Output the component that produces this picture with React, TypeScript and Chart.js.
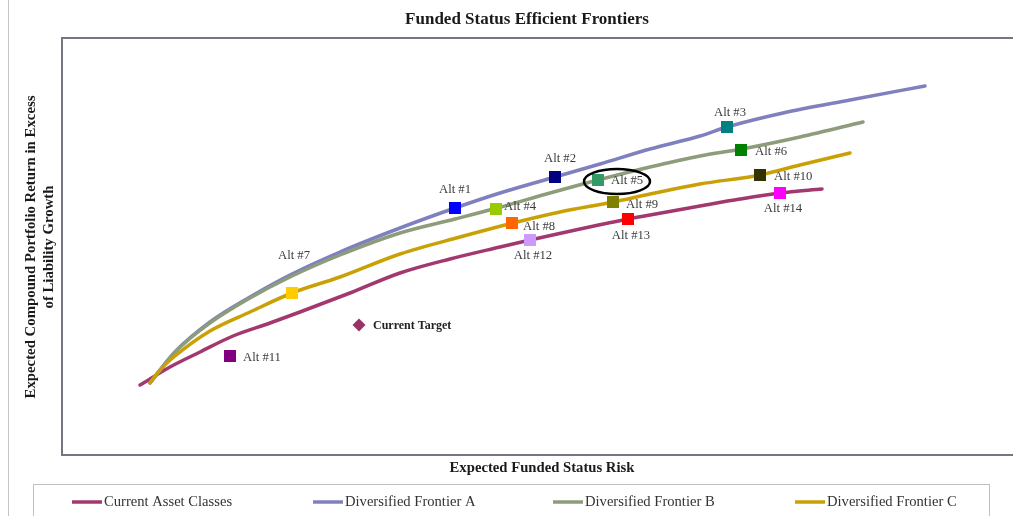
import React, { useEffect, useRef } from "react";
import { Chart, registerables } from "chart.js";

Chart.register(...registerables);

// ---------------- data ----------------
const chartTitle = "Funded Status Efficient Frontiers";
const xAxisTitle = "Expected Funded Status Risk";
const yAxisTitle = ["Expected Compound Portfolio Return in Excess", "of Liability Growth"];

const seriesNames = [
  "Current Asset Classes",
  "Diversified Frontier A",
  "Diversified Frontier B",
  "Diversified Frontier C",
];

// [risk, return] pairs
const currentAssetClasses: [number, number][] = [
  [1.56, 0.70], [2.16, 0.88], [2.76, 1.03], [3.42, 1.19], [4.16, 1.32], [4.76, 1.43],
  [5.76, 1.62], [6.76, 1.82], [7.76, 1.96], [8.76, 2.08], [9.36, 2.15], [10.36, 2.26],
  [11.32, 2.36], [11.76, 2.40], [12.76, 2.49], [13.56, 2.56], [14.36, 2.62], [15.20, 2.66],
];
const frontierA: [number, number][] = [
  [1.76, 0.72], [2.26, 1.03], [2.96, 1.33], [3.76, 1.58], [4.56, 1.80], [5.56, 2.03],
  [6.76, 2.27], [7.86, 2.47], [8.76, 2.62], [9.86, 2.78], [10.76, 2.91], [11.76, 3.06],
  [12.76, 3.19], [13.30, 3.28], [14.42, 3.42], [15.76, 3.55], [17.26, 3.69],
];
const frontierB: [number, number][] = [
  [1.76, 0.72], [2.26, 1.03], [2.96, 1.32], [3.76, 1.57], [4.56, 1.78], [5.56, 2.00],
  [6.76, 2.22], [7.86, 2.36], [8.70, 2.47], [9.76, 2.62], [10.72, 2.75], [11.76, 2.88],
  [12.76, 2.99], [13.60, 3.06], [14.76, 3.18], [16.02, 3.33],
];
const frontierC: [number, number][] = [
  [1.76, 0.72], [1.96, 0.85], [2.26, 0.99], [2.96, 1.24], [3.76, 1.43], [4.60, 1.62],
  [5.56, 1.78], [6.76, 2.01], [7.96, 2.18], [9.02, 2.32], [9.96, 2.43], [11.02, 2.53],
  [11.76, 2.61], [12.76, 2.71], [13.96, 2.80], [14.76, 2.90], [15.76, 3.02],
];

const pointNames = [
  "Alt #1", "Alt #2", "Alt #3", "Alt #4", "Alt #5", "Alt #6", "Alt #7",
  "Alt #8", "Alt #9", "Alt #10", "Alt #11", "Alt #12", "Alt #13", "Alt #14",
  "Current Target",
];
const pointRisk = [7.86, 9.86, 13.30, 8.68, 10.72, 13.58, 4.60, 9.00, 11.02, 13.96, 3.36, 9.36, 11.32, 14.36, 5.94];
const pointReturn = [2.47, 2.78, 3.28, 2.46, 2.75, 3.05, 1.62, 2.32, 2.53, 2.80, 0.99, 2.15, 2.36, 2.62, 1.30];
const highlightedPoint = "Alt #5";

// ---------------- styles ----------------
const seriesColors = ["#A3386E", "#7F80BE", "#8D9C7A", "#C9A106"];
const seriesDrawOrder = [4, 3, 2, 1];
const pointColors = [
  "#0000FF", "#000080", "#008080", "#99CC00", "#339966", "#008000", "#FFCC00",
  "#FF6600", "#808000", "#333300", "#800080", "#CC99FF", "#FF0000", "#FF00FF",
  "#993366",
];
// label offsets from the marker: [dx, dy, align]
const labelOffsets: [number, number, CanvasTextAlign][] = [
  [0, -18, "center"], [5, -18, "center"], [3, -14, "center"], [8, -2, "left"],
  [13, 1, "left"], [14, 2, "left"], [2, -37, "center"], [11, 4, "left"],
  [13, 3, "left"], [14, 2, "left"], [13, 2, "left"], [3, 16, "center"],
  [3, 17, "center"], [3, 16, "center"], [14, 1, "left"],
];

const SERIF = "'Liberation Serif', 'DejaVu Serif', serif";

const decorPlugin = {
  id: "decor",
  beforeDraw(chart: any) {
    const { ctx, width, height } = chart;
    ctx.save();
    ctx.fillStyle = "#ffffff";
    ctx.fillRect(0, 0, width, height);
    ctx.restore();
  },
  afterDatasetsDraw(chart: any) {
    const { ctx } = chart;
    const meta = chart.getDatasetMeta(0);
    ctx.save();
    ctx.textBaseline = "middle";
    meta.data.forEach((el: any, i: number) => {
      const [dx, dy, align] = labelOffsets[i];
      const isTarget = pointNames[i] === "Current Target";
      ctx.font = isTarget ? "bold 12px " + SERIF : "12.7px " + SERIF;
      ctx.fillStyle = isTarget ? "#222222" : "#3c3c3c";
      ctx.textAlign = align;
      ctx.fillText(pointNames[i], el.x + dx, el.y + dy);
      if (pointNames[i] === highlightedPoint) {
        ctx.beginPath();
        ctx.ellipse(el.x + 19, el.y + 1.5, 33, 12.5, 0, 0, Math.PI * 2);
        ctx.lineWidth = 2.5;
        ctx.strokeStyle = "#000000";
        ctx.stroke();
      }
    });
    ctx.restore();
  },
  afterDraw(chart: any) {
    const { ctx, chartArea, width, height } = chart;
    const { left, top, bottom } = chartArea;
    ctx.save();
    // outer frame line at left
    ctx.strokeStyle = "#c4c4c4";
    ctx.lineWidth = 1;
    ctx.beginPath();
    ctx.moveTo(8.5, 0);
    ctx.lineTo(8.5, height);
    ctx.stroke();

    // plot border (top, left, bottom)
    ctx.strokeStyle = "#7a7382";
    ctx.lineWidth = 2;
    ctx.beginPath();
    ctx.moveTo(width, top);
    ctx.lineTo(left, top);
    ctx.lineTo(left, bottom);
    ctx.lineTo(width, bottom);
    ctx.stroke();

    // title
    ctx.fillStyle = "#1a1a1a";
    ctx.textAlign = "center";
    ctx.textBaseline = "middle";
    ctx.font = "bold 17px " + SERIF;
    ctx.fillText(chartTitle, 527, 20);

    // x axis title
    ctx.font = "bold 14.7px " + SERIF;
    ctx.fillText(xAxisTitle, 542, 468);

    // y axis title
    ctx.save();
    ctx.translate(31, 247);
    ctx.rotate(-Math.PI / 2);
    ctx.font = "bold 14.8px " + SERIF;
    ctx.fillText(yAxisTitle[0], 0, 0);
    ctx.fillText(yAxisTitle[1], 0, 18);
    ctx.restore();

    // legend box
    ctx.strokeStyle = "#c0c0c0";
    ctx.lineWidth = 1;
    ctx.strokeRect(33.5, 484.5, 956, 60);
    const legendX = [72, 313, 553, 795];
    ctx.font = "14.6px " + SERIF;
    ctx.textAlign = "left";
    seriesNames.forEach((name, i) => {
      const x = legendX[i];
      ctx.strokeStyle = seriesColors[i];
      ctx.lineWidth = 3.5;
      ctx.beginPath();
      ctx.moveTo(x, 502);
      ctx.lineTo(x + 30, 502);
      ctx.stroke();
      ctx.fillStyle = "#333333";
      ctx.fillText(name, x + 32, 502);
    });
    ctx.restore();
  },
};

export default function App() {
  const canvasRef = useRef<HTMLCanvasElement | null>(null);

  useEffect(() => {
    if (!canvasRef.current) return;
    const seriesData = [currentAssetClasses, frontierA, frontierB, frontierC];
    const lineSets = seriesNames.map((name, i) => ({
      type: "line" as const,
      label: name,
      data: seriesData[i].map(([x, y]) => ({ x, y })),
      borderColor: seriesColors[i],
      backgroundColor: seriesColors[i],
      borderWidth: 3.5,
      pointRadius: 0,
      cubicInterpolationMode: "monotone" as const,
      fill: false,
      order: seriesDrawOrder[i],
      borderCapStyle: "round" as const,
    }));
    const chart = new Chart(canvasRef.current, {
      type: "scatter",
      data: {
        datasets: [
          {
            type: "scatter" as const,
            label: "Alternatives",
            data: pointNames.map((_, i) => ({ x: pointRisk[i], y: pointReturn[i] })),
            pointBackgroundColor: pointColors,
            pointBorderColor: pointColors,
            pointBorderWidth: 0,
            pointStyle: pointNames.map((n) => (n === "Current Target" ? "rectRot" : "rect")),
            pointRadius: pointNames.map((n) => (n === "Current Target" ? 6.5 : 8.5)),
            order: 0,
          } as any,
          ...lineSets,
        ],
      },
      options: {
        animation: false,
        responsive: true,
        maintainAspectRatio: false,
        layout: { autoPadding: false, padding: { left: 62, top: 38, right: 0, bottom: 61 } },
        plugins: {
          legend: { display: false },
          title: { display: false },
          tooltip: { enabled: false },
        },
        scales: {
          x: { type: "linear", min: 0, max: 19.02, display: false },
          y: { type: "linear", min: 0, max: 4.17, display: false },
        },
      },
      plugins: [decorPlugin],
    });
    return () => chart.destroy();
  }, []);

  return (
    <div style={{ position: "fixed", left: 0, top: 0, width: 1013, height: 516, background: "#fff" }}>
      <canvas ref={canvasRef} />
    </div>
  );
}
